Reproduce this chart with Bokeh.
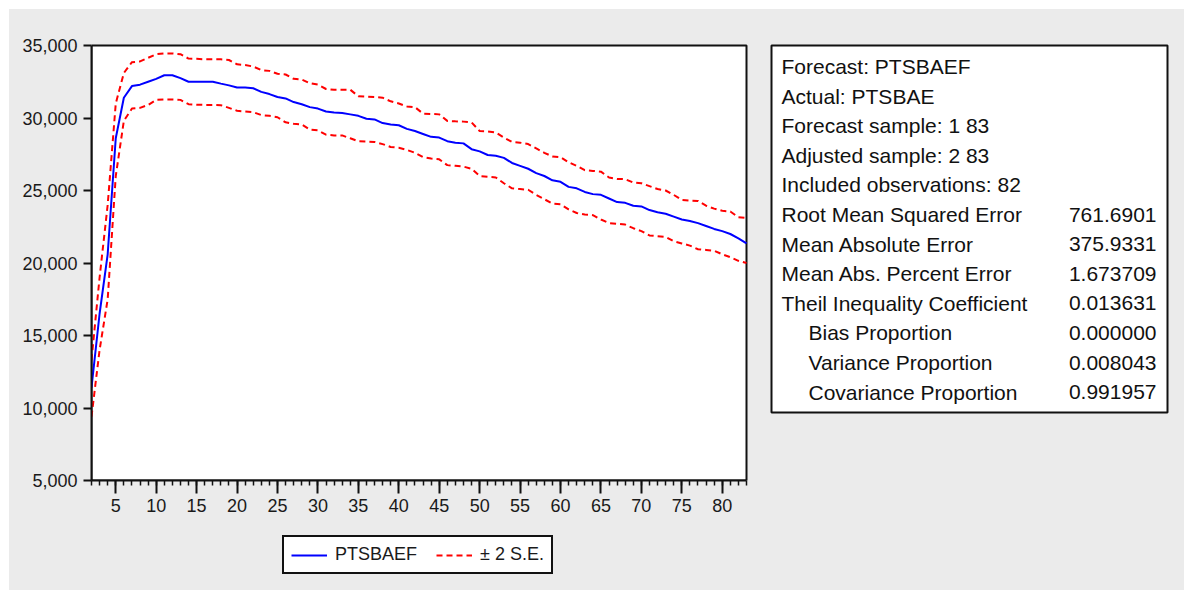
from bokeh.plotting import figure
from bokeh.models import Range1d, FixedTicker, NumeralTickFormatter, Legend, LegendItem
from bokeh.layouts import column
from bokeh.embed import file_html
from bokeh.resources import INLINE
from bokeh.core.properties import value

# ---------------- data ----------------
obs = list(range(2, 84))

forecast = [11400, 16500, 20600, 28600, 31400, 32200, 32300, 32500, 32700, 32950,
            32950, 32750, 32500, 32500, 32500, 32500, 32370, 32250, 32100, 32100,
            32050, 31800, 31650, 31450, 31350, 31100, 30950, 30750, 30650, 30450,
            30380, 30350, 30250, 30150, 29950, 29900, 29650, 29550, 29500, 29250,
            29100, 28900, 28700, 28650, 28400, 28300, 28250, 27850, 27700, 27450,
            27400, 27250, 26900, 26700, 26500, 26200, 26000, 25700, 25600, 25250,
            25150, 24900, 24750, 24700, 24450, 24200, 24150, 23950, 23900, 23650,
            23500, 23400, 23200, 23000, 22900, 22750, 22550, 22350, 22200, 22000,
            21700, 21350]

upper = [13300, 19000, 24000, 31000, 33100, 33850, 33900, 34150, 34400, 34450,
         34450, 34400, 34100, 34080, 34050, 34050, 34050, 34000, 33700, 33650,
         33550, 33300, 33250, 33050, 33000, 32700, 32650, 32400, 32300, 32000,
         31950, 31950, 31950, 31500, 31480, 31450, 31400, 31150, 31000, 30800,
         30750, 30300, 30280, 30250, 29800, 29770, 29750, 29700, 29100, 29080,
         29000, 28650, 28350, 28300, 28200, 27900, 27600, 27350, 27300, 26950,
         26700, 26400, 26350, 26300, 25900, 25800, 25780, 25550, 25500, 25300,
         25100, 25000, 24700, 24350, 24300, 24280, 23950, 23750, 23600, 23550,
         23150, 23100]

lower = [9400, 14000, 17500, 26000, 29800, 30650, 30700, 30900, 31250, 31270,
         31270, 31250, 30950, 30920, 30900, 30900, 30880, 30700, 30500, 30450,
         30400, 30200, 30150, 30050, 29700, 29600, 29550, 29200, 29150, 28850,
         28800, 28800, 28600, 28400, 28380, 28350, 28200, 28000, 27950, 27800,
         27600, 27300, 27200, 27150, 26750, 26700, 26650, 26500, 26000, 25950,
         25900, 25500, 25150, 25100, 25050, 24700, 24400, 24100, 24050, 23700,
         23450, 23350, 23300, 23000, 22750, 22700, 22650, 22400, 22200, 21900,
         21850, 21800, 21500, 21350, 21200, 20950, 20900, 20850, 20600, 20400,
         20150, 20000]

y_ticks = [5000, 10000, 15000, 20000, 25000, 30000, 35000]
x_ticks = [5, 10, 15, 20, 25, 30, 35, 40, 45, 50, 55, 60, 65, 70, 75, 80]

legend_labels = ["PTSBAEF", "\u00b1 2 S.E."]

stat_labels = ["Forecast: PTSBAEF", "Actual: PTSBAE", "Forecast sample: 1 83",
               "Adjusted sample: 2 83", "Included observations: 82",
               "Root Mean Squared Error", "Mean Absolute Error",
               "Mean Abs. Percent Error", "Theil Inequality Coefficient",
               "Bias Proportion", "Variance Proportion", "Covariance Proportion"]
stat_values = ["", "", "", "", "", "761.6901", "375.9331", "1.673709",
               "0.013631", "0.000000", "0.008043", "0.991957"]
stat_indent = [0, 0, 0, 0, 0, 0, 0, 0, 0, 1, 1, 1]

# ---------------- layout constants (page pixels) ----------------
BG = "#ebebeb"
FONT = "Liberation Sans"
DARK = "#111111"

X0, X1 = obs[0], obs[-1]
Y0, Y1 = y_ticks[0], y_ticks[-1]
CH_L, CH_R, CH_T, CH_B = 91, 746, 45, 480          # chart frame in page px
FR_R, FR_T = 1170, 42                               # outer plotting frame
AX_H = 40                                           # x-axis band height
BOX_L, BOX_R, BOX_T, BOX_B = 771, 1167, 45, 412     # statistics box
LEG_L, LEG_B = 282, 574                             # legend box (left, bottom)

ux = (X1 - X0) / (CH_R - CH_L)
uy = (Y1 - Y0) / (CH_B - CH_T)


def px_x(px):
    return X0 + (px - CH_L) * ux


def px_y(py):
    return Y1 - (py - CH_T) * uy


p = figure(frame_width=FR_R - CH_L, frame_height=CH_B - FR_T,
           x_range=Range1d(X0, px_x(FR_R)), y_range=Range1d(Y0, px_y(FR_T)),
           output_backend="svg", toolbar_location=None,
           min_border_left=CH_L - 9, min_border_right=1184 - FR_R,
           min_border_top=FR_T - 9, min_border_bottom=AX_H,
           background_fill_color=BG, border_fill_color=BG, outline_line_color=None)
p.xgrid.visible = False
p.ygrid.visible = False

# white chart area
p.quad(left=[X0], right=[X1], bottom=[Y0], top=[Y1], fill_color="white",
       line_color=DARK, line_width=2)

xa = p.xaxis[0]
xa.bounds = (X0, X1)
xa.ticker = FixedTicker(ticks=x_ticks, minor_ticks=obs)
xa.major_tick_out = 13
xa.major_tick_in = 0
xa.minor_tick_out = 5
xa.minor_tick_in = 0
xa.major_label_standoff = 5
xa.axis_line_color = DARK
xa.axis_line_width = 2
xa.major_tick_line_color = DARK
xa.major_tick_line_width = 2
xa.minor_tick_line_color = DARK
xa.minor_tick_line_width = 1.5
xa.major_label_text_font = FONT
xa.major_label_text_font_size = "18px"
xa.major_label_text_color = "#1a1a1a"

ya = p.yaxis[0]
ya.bounds = (Y0, Y1)
ya.ticker = FixedTicker(ticks=y_ticks, minor_ticks=[])
ya.formatter = NumeralTickFormatter(format="0,0")
ya.major_tick_out = 8
ya.major_tick_in = 0
ya.minor_tick_out = 0
ya.minor_tick_in = 0
ya.major_label_standoff = 6
ya.axis_line_color = DARK
ya.axis_line_width = 2
ya.major_tick_line_color = DARK
ya.major_tick_line_width = 2
ya.major_label_text_font = FONT
ya.major_label_text_font_size = "18px"
ya.major_label_text_color = "#1a1a1a"

p.line(obs, forecast, line_color="#0000ff", line_width=2)
p.line(obs, upper, line_color="#ff0000", line_width=2, line_dash="6 4")
p.line(obs, lower, line_color="#ff0000", line_width=2, line_dash="6 4")

# ---------------- statistics box ----------------
p.quad(left=[px_x(BOX_L)], right=[px_x(BOX_R)], bottom=[px_y(BOX_B)], top=[px_y(BOX_T)],
       fill_color="white", line_color=DARK, line_width=2)

line_h = 29.6
ys = [px_y(66 + i * line_h) for i in range(len(stat_labels))]
xs = [px_x(781 + 27 * ind) for ind in stat_indent]
p.text(x=xs, y=ys, text=stat_labels, text_font=value(FONT), text_font_size="21px",
       text_baseline="middle", text_align="left", text_color="#111111")
p.text(x=[px_x(1156)] * len(stat_values), y=ys, text=stat_values, text_font=value(FONT),
       text_font_size="21px", text_baseline="middle", text_align="right", text_color="#111111")

# ---------------- legend strip (separate figure below the chart) ----------------
LEG_STRIP_H = 590 - 9 - (FR_T - 9) - (CH_B - FR_T) - AX_H
q = figure(frame_width=FR_R - CH_L, frame_height=LEG_STRIP_H,
           x_range=Range1d(X0, px_x(FR_R)), y_range=Range1d(-2, -1),
           output_backend="svg", toolbar_location=None,
           x_axis_type=None, y_axis_type=None,
           min_border_left=CH_L - 9, min_border_right=1184 - FR_R,
           min_border_top=0, min_border_bottom=0,
           background_fill_color=BG, border_fill_color=BG, outline_line_color=None)
q.xgrid.visible = False
q.ygrid.visible = False
# same series (outside this strip's visible range) so the legend shows their styles
l_f = q.line(obs, forecast, line_color="#0000ff", line_width=2)
l_u = q.line(obs, upper, line_color="#ff0000", line_width=2, line_dash="6 4")

legend = Legend(items=[LegendItem(label=legend_labels[0], renderers=[l_f]),
                       LegendItem(label=legend_labels[1], renderers=[l_u])],
                orientation="horizontal",
                location=(LEG_L - CH_L, (590 - LEG_B)),
                label_text_font=FONT, label_text_font_size="18px", label_text_color="#1a1a1a",
                glyph_width=36, glyph_height=20, label_height=20, label_standoff=8,
                spacing=19, padding=7, margin=0,
                border_line_color=DARK, border_line_width=2, border_line_alpha=1.0,
                background_fill_color="white", background_fill_alpha=1.0)
q.add_layout(legend, "center")

layout = column(p, q, margin=(9, 0, 0, 9), spacing=0,
                styles={"background-color": BG})

open("out.html", "w").write(file_html(layout, INLINE))
